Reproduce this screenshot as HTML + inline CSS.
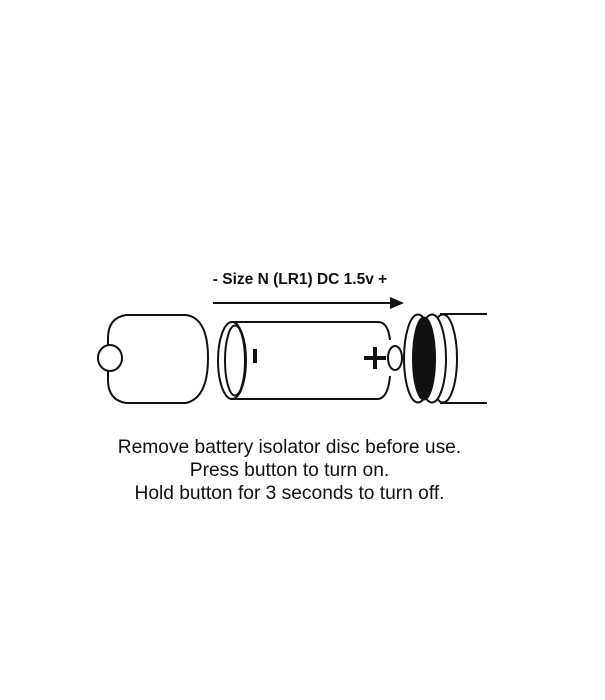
<!DOCTYPE html>
<html><head><style>
body{margin:0;background:#fff;width:605px;height:700px;overflow:hidden;font-family:"Liberation Sans",Arial,sans-serif}
.t{position:absolute;width:605px;text-align:center;left:-13px;font-size:19.2px;color:#111;line-height:23px}
</style></head><body>
<svg width="605" height="700" style="position:absolute;left:0;top:0">
<g fill="none" stroke="#111" stroke-width="2">
<!-- cap -->
<path d="M108,370 L108,380 Q108,400 126,403 L186,403 Q208,398 208,358 Q208,318 186,315 L126,315 Q108,318 108,338 L108,346"/>
<ellipse cx="110" cy="358" rx="12" ry="13" fill="#fff"/>
<!-- battery -->
<path d="M232,322 L378,322 Q388,322 390,340 M390,376 Q388,398 378,399 L232,399"/>
<ellipse cx="395" cy="358" rx="7" ry="12"/>
<ellipse cx="232" cy="360.5" rx="14" ry="38.5" fill="#fff"/>
<ellipse cx="235" cy="360.5" rx="10" ry="35"/>
<!-- right piece -->
<path d="M440,314 L487,314 M440,403 L487,403"/>
<ellipse cx="443" cy="358.5" rx="14" ry="44" fill="#fff"/>
<ellipse cx="432" cy="358.5" rx="14" ry="44" fill="#fff"/>
<ellipse cx="418" cy="358.5" rx="14" ry="44" fill="#fff"/>
<ellipse cx="424" cy="358.5" rx="11" ry="41" fill="#111"/>
<!-- arrow -->
<line x1="213" y1="303" x2="392" y2="303"/>
</g>
<polygon points="390,297 404,303 390,309" fill="#111"/>
<rect x="253" y="349" width="4" height="14" fill="#111"/>
<rect x="364" y="356" width="22" height="4" fill="#111"/>
<rect x="373" y="347" width="4" height="22" fill="#111"/>
<text x="300" y="284" text-anchor="middle" font-family="Liberation Sans,Arial,sans-serif" font-weight="bold" font-size="15.5" fill="#111">- Size N (LR1) DC 1.5v +</text>
</svg>
<div class="t" style="top:436px">Remove battery isolator disc before use.</div>
<div class="t" style="top:459px">Press button to turn on.</div>
<div class="t" style="top:482px">Hold button for 3 seconds to turn off.</div>
</body></html>
